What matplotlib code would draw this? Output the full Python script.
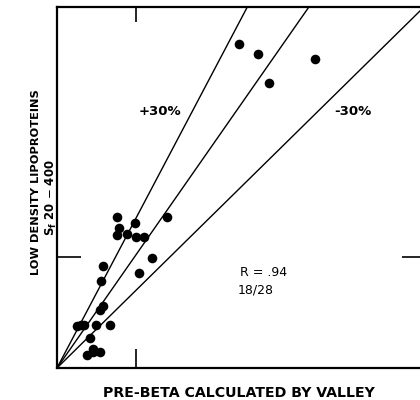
import matplotlib
matplotlib.use('Agg')
import matplotlib.pyplot as plt

# pre-beta by valley (x) vs low density lipoproteins Sf 20-400 (y)
valley = [231, 255, 326, 268, 139, 76, 99, 79, 76, 88, 100, 110, 120, 104,
          58, 56, 58, 54, 25, 30, 34, 49, 67, 42, 46, 38, 45, 54]
ldl = [292, 283, 278, 257, 136, 136, 131, 126, 120, 121, 118, 118, 99, 86,
       92, 78, 56, 52, 38, 39, 39, 39, 39, 27, 17, 12, 14, 14]

# +30%, identity, -30% lines (slopes)
slopes = [1.35, 1.02, 0.70]
band_labels = ['+30%', '-30%']
stats_text = ['R = .94', '18/28']

x_max = 459.5
y_max = 325.2

fig = plt.figure(figsize=(4.2, 4.0), dpi=100)
ax = fig.add_axes([57 / 420, 32 / 400, 363 / 420, 361 / 400])

for s in slopes:
    ax.plot([0, x_max], [0, s * x_max], color='black', lw=1.0)

ax.scatter(valley, ldl, s=48, color='black', zorder=3, linewidths=0)

ax.text(130, 231, band_labels[0], fontsize=9.5, fontweight='bold', ha='center', va='center')
ax.text(375, 231, band_labels[1], fontsize=9.5, fontweight='bold', ha='center', va='center')
ax.text(232, 86, stats_text[0], fontsize=9, ha='left', va='center')
ax.text(229, 70, stats_text[1], fontsize=9, ha='left', va='center')

ax.set_xlim(0, x_max)
ax.set_ylim(0, y_max)
ax.set_xticks([100])
ax.set_yticks([100])
ax.set_xticklabels([])
ax.set_yticklabels([])
ax.tick_params(axis='x', direction='in', length=14, width=1.2, top=True, bottom=True)
ax.tick_params(axis='y', direction='in', length=17, width=1.2, left=True, right=True)
# top tick is shorter than the bottom one
for t in ax.xaxis.get_major_ticks():
    t.tick2line.set_markersize(11)
for t in ax.yaxis.get_major_ticks():
    t.tick2line.set_markersize(13)

ax.spines['right'].set_visible(False)
for side in ['left', 'bottom', 'top']:
    ax.spines[side].set_linewidth(1.6)

fig.text(239 / 420, 1 - 393 / 400, 'PRE-BETA CALCULATED BY VALLEY', fontsize=10.2,
         fontweight='bold', ha='center', va='center')
fig.text(36 / 420, 1 - 182 / 400, 'LOW DENSITY LIPOPROTEINS', fontsize=8.2,
         fontweight='bold', ha='center', va='center', rotation=90)
fig.text(51 / 420, 1 - 198 / 400, r'S$_{\mathbf{f}}$ 20 $-$ 400', fontsize=8.5,
         fontweight='bold', ha='center', va='center', rotation=90)

fig.savefig('out.png', dpi=100)
